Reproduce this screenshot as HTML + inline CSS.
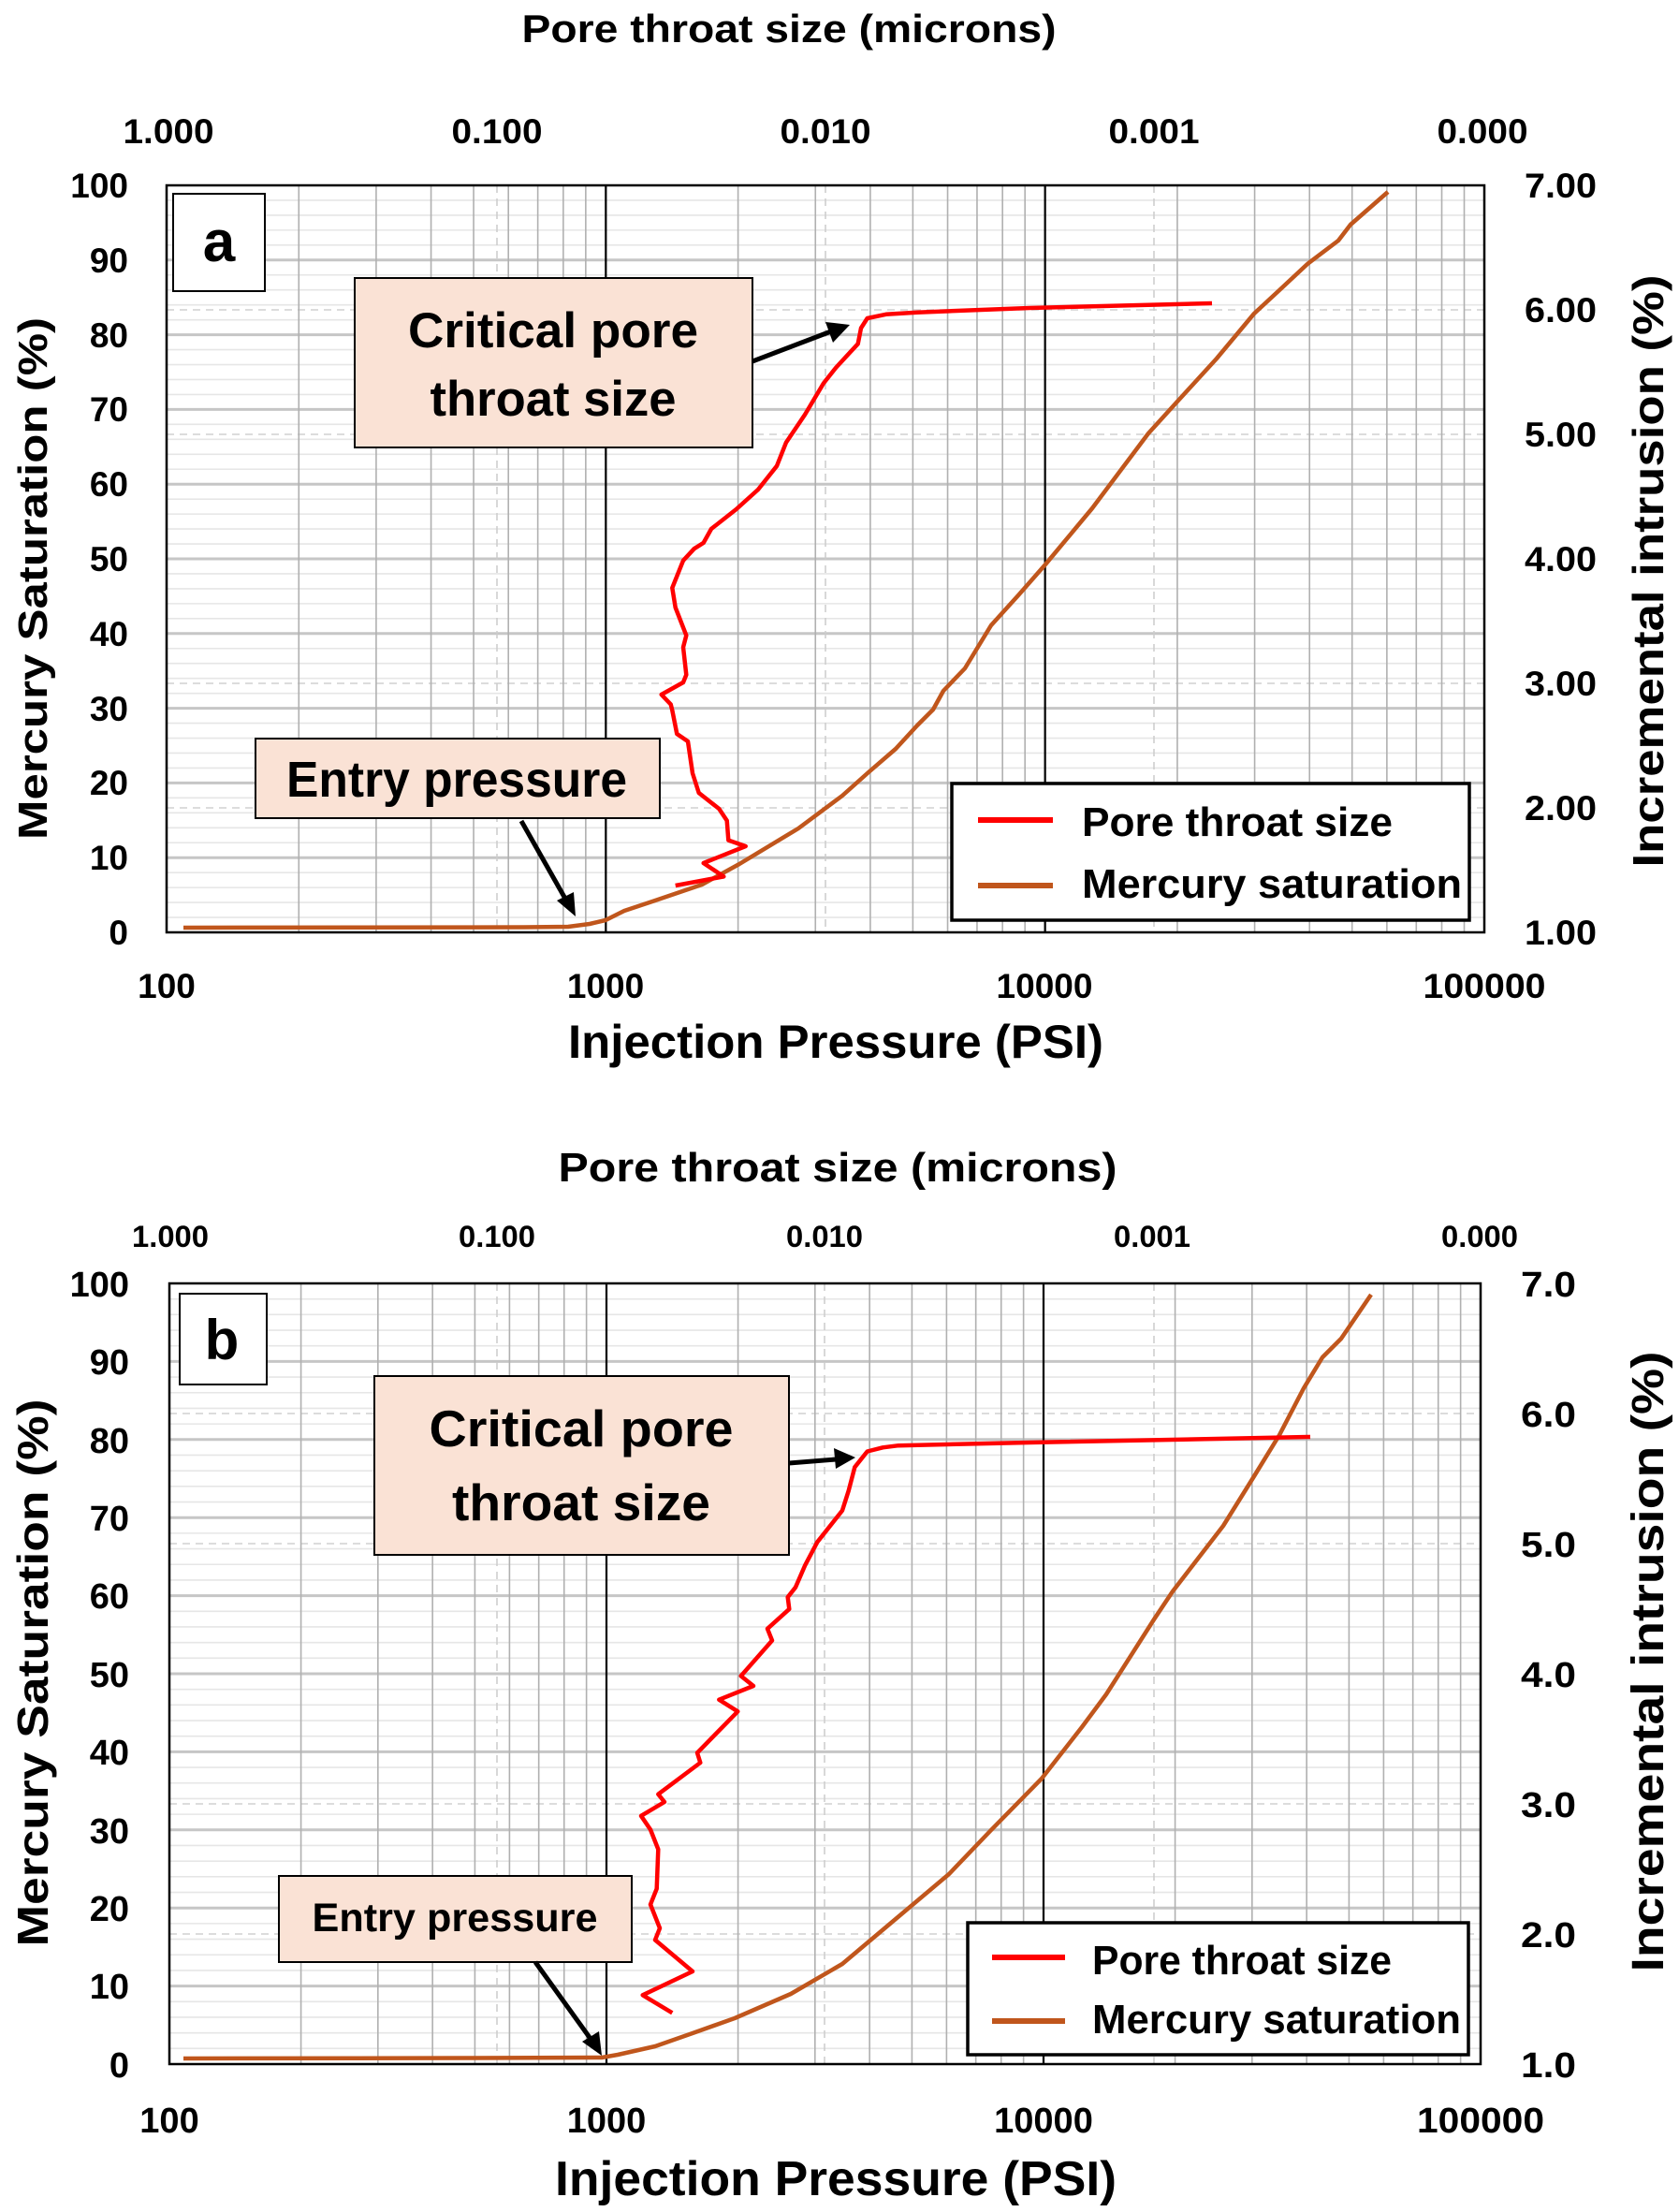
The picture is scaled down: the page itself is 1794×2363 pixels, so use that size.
<!DOCTYPE html>
<html><head><meta charset="utf-8">
<style>
html,body{margin:0;padding:0;background:#fff;}
svg{display:block;}
text{font-family:"Liberation Sans",sans-serif;font-weight:bold;fill:#000;}
</style></head>
<body>
<svg id="s" xmlns="http://www.w3.org/2000/svg" width="1794" height="2363" viewBox="0 0 1794 2363">
<rect width="1794" height="2363" fill="#fff"/>
<g id="gridA"></g>
<g id="gridB"></g>

<!-- ============ PANEL A ============ -->
<rect x="178" y="198" width="1408" height="798" fill="none" stroke="#000" stroke-width="2.5"/>
<text x="843" y="45" font-size="42" text-anchor="middle" textLength="571" lengthAdjust="spacingAndGlyphs">Pore throat size (microns)</text>
<g font-size="37" text-anchor="middle">
<text x="180" y="153" textLength="97" lengthAdjust="spacingAndGlyphs">1.000</text>
<text x="531" y="153" textLength="97" lengthAdjust="spacingAndGlyphs">0.100</text>
<text x="882" y="153" textLength="97" lengthAdjust="spacingAndGlyphs">0.010</text>
<text x="1233" y="153" textLength="97" lengthAdjust="spacingAndGlyphs">0.001</text>
<text x="1584" y="153" textLength="97" lengthAdjust="spacingAndGlyphs">0.000</text>
</g>
<g font-size="37" text-anchor="end">
<text x="137" y="211">100</text><text x="137" y="291">90</text><text x="137" y="371">80</text>
<text x="137" y="450">70</text><text x="137" y="530">60</text><text x="137" y="610">50</text>
<text x="137" y="690">40</text><text x="137" y="770">30</text><text x="137" y="849">20</text>
<text x="137" y="929">10</text><text x="137" y="1009">0</text>
</g>
<g font-size="37">
<text x="1629" y="211" textLength="77" lengthAdjust="spacingAndGlyphs">7.00</text>
<text x="1629" y="344" textLength="77" lengthAdjust="spacingAndGlyphs">6.00</text>
<text x="1629" y="477" textLength="77" lengthAdjust="spacingAndGlyphs">5.00</text>
<text x="1629" y="610" textLength="77" lengthAdjust="spacingAndGlyphs">4.00</text>
<text x="1629" y="743" textLength="77" lengthAdjust="spacingAndGlyphs">3.00</text>
<text x="1629" y="876" textLength="77" lengthAdjust="spacingAndGlyphs">2.00</text>
<text x="1629" y="1009" textLength="77" lengthAdjust="spacingAndGlyphs">1.00</text>
</g>
<g font-size="37" text-anchor="middle">
<text x="178" y="1066">100</text>
<text x="647" y="1066">1000</text>
<text x="1116" y="1066">10000</text>
<text x="1586" y="1066" textLength="131" lengthAdjust="spacingAndGlyphs">100000</text>
</g>
<text x="893" y="1130" font-size="50" text-anchor="middle" textLength="572" lengthAdjust="spacingAndGlyphs">Injection Pressure (PSI)</text>
<text transform="translate(50,618) rotate(-90)" font-size="44" text-anchor="middle" textLength="558" lengthAdjust="spacingAndGlyphs">Mercury Saturation (%)</text>
<text transform="translate(1777,610) rotate(-90)" font-size="46" text-anchor="middle" textLength="633" lengthAdjust="spacingAndGlyphs">Incremental intrusion  (%)</text>

<!-- curves A -->
<polyline fill="none" stroke="#c0561c" stroke-width="4.5" stroke-linejoin="round" points="196,991 560,990.5 607,990 630,987 647,983 667,973 700,962 750,945 790,923 853,885 900,850 928,825 957,800 980,775 997,758 1008,738 1031,714 1059,668 1088,636 1117,603 1167,543 1227,463 1257,430 1300,383 1340,335 1367,310 1397,282 1430,257 1443,240 1483,205"/>
<polyline fill="none" stroke="#ff0000" stroke-width="4.5" stroke-linejoin="round" points="721.7,946 773.3,936.4 751.7,922 796.7,904 778.3,897.6 776.7,876.6 768.3,864 746.7,847 740,826 735,792 723.3,784 718.3,758.8 716.7,752.4 706.7,742 730,729 733.3,720.9 730,691.4 733.3,678.8 721.7,649 718.3,628 730,598.8 741.7,586.2 751.7,579.9 760,565 786.7,544 810,523 830,497.8 835,485.2 840,472.6 860,443 880,409.4 893.3,392.6 916.7,367.3 920,350.5 926.7,340 946.7,335.8 980,333.7 1100,329 1295,324"/>

<rect x="185" y="207" width="98" height="104" fill="#fff" stroke="#000" stroke-width="2"/>
<text x="234" y="279" font-size="62" text-anchor="middle">a</text>

<rect x="379" y="297" width="425" height="181" fill="#fae2d5" stroke="#000" stroke-width="2"/>
<text x="591" y="371" font-size="53" text-anchor="middle" textLength="310" lengthAdjust="spacingAndGlyphs">Critical pore</text>
<text x="591" y="444" font-size="53" text-anchor="middle" textLength="263" lengthAdjust="spacingAndGlyphs">throat size</text>
<line x1="804" y1="386" x2="888" y2="354" stroke="#000" stroke-width="5"/>
<polygon points="908,347 882,344 890,366" fill="#000"/>

<rect x="273" y="789" width="432" height="85" fill="#fae2d5" stroke="#000" stroke-width="2"/>
<text x="488" y="851" font-size="54" text-anchor="middle" textLength="364" lengthAdjust="spacingAndGlyphs">Entry pressure</text>
<line x1="557" y1="877" x2="604" y2="960" stroke="#000" stroke-width="5"/>
<polygon points="615,979 595,962 613,953" fill="#000"/>

<rect x="1017" y="837" width="553" height="146" fill="#fff" stroke="#000" stroke-width="3.5"/>
<line x1="1045" y1="876" x2="1125" y2="876" stroke="#ff0000" stroke-width="6"/>
<line x1="1045" y1="946" x2="1125" y2="946" stroke="#c0561c" stroke-width="6"/>
<text x="1156" y="893" font-size="44" textLength="332" lengthAdjust="spacingAndGlyphs">Pore throat size</text>
<text x="1156" y="959" font-size="44" textLength="406" lengthAdjust="spacingAndGlyphs">Mercury saturation</text>

<!-- ============ PANEL B ============ -->
<rect x="181" y="1371" width="1401" height="834" fill="none" stroke="#000" stroke-width="2.5"/>
<text x="895" y="1262" font-size="44" text-anchor="middle" textLength="597" lengthAdjust="spacingAndGlyphs">Pore throat size (microns)</text>
<g font-size="32" text-anchor="middle">
<text x="182" y="1332" textLength="82" lengthAdjust="spacingAndGlyphs">1.000</text>
<text x="531" y="1332" textLength="82" lengthAdjust="spacingAndGlyphs">0.100</text>
<text x="881" y="1332" textLength="82" lengthAdjust="spacingAndGlyphs">0.010</text>
<text x="1231" y="1332" textLength="82" lengthAdjust="spacingAndGlyphs">0.001</text>
<text x="1581" y="1332" textLength="82" lengthAdjust="spacingAndGlyphs">0.000</text>
</g>
<g font-size="38" text-anchor="end">
<text x="138" y="1385">100</text><text x="138" y="1468">90</text><text x="138" y="1552">80</text>
<text x="138" y="1635">70</text><text x="138" y="1718">60</text><text x="138" y="1802">50</text>
<text x="138" y="1885">40</text><text x="138" y="1969">30</text><text x="138" y="2052">20</text>
<text x="138" y="2135">10</text><text x="138" y="2219">0</text>
</g>
<g font-size="38">
<text x="1625" y="1385" textLength="59" lengthAdjust="spacingAndGlyphs">7.0</text>
<text x="1625" y="1524" textLength="59" lengthAdjust="spacingAndGlyphs">6.0</text>
<text x="1625" y="1663" textLength="59" lengthAdjust="spacingAndGlyphs">5.0</text>
<text x="1625" y="1802" textLength="59" lengthAdjust="spacingAndGlyphs">4.0</text>
<text x="1625" y="1941" textLength="59" lengthAdjust="spacingAndGlyphs">3.0</text>
<text x="1625" y="2080" textLength="59" lengthAdjust="spacingAndGlyphs">2.0</text>
<text x="1625" y="2219" textLength="59" lengthAdjust="spacingAndGlyphs">1.0</text>
</g>
<g font-size="38" text-anchor="middle">
<text x="181" y="2278">100</text>
<text x="648" y="2278">1000</text>
<text x="1115" y="2278">10000</text>
<text x="1582" y="2278" textLength="136" lengthAdjust="spacingAndGlyphs">100000</text>
</g>
<text x="893" y="2345" font-size="52" text-anchor="middle" textLength="600" lengthAdjust="spacingAndGlyphs">Injection Pressure (PSI)</text>
<text transform="translate(51,1787) rotate(-90)" font-size="46" text-anchor="middle" textLength="585" lengthAdjust="spacingAndGlyphs">Mercury Saturation (%)</text>
<text transform="translate(1777,1775) rotate(-90)" font-size="48" text-anchor="middle" textLength="663" lengthAdjust="spacingAndGlyphs">Incremental intrusion  (%)</text>

<polyline fill="none" stroke="#c0561c" stroke-width="4.5" stroke-linejoin="round" points="196,2199 500,2198.5 643,2198 660,2195 700,2186 740,2172 785,2156 845,2130 900,2098 957,2050 1014,2002 1059,1955 1113,1900 1156,1845 1182,1810 1233,1730 1253,1700 1307,1630 1340,1577 1367,1533 1393,1483 1413,1450 1433,1430 1465,1383"/>
<polyline fill="none" stroke="#ff0000" stroke-width="4.5" stroke-linejoin="round" points="718.3,2150.3 686.7,2131.3 740,2106 700,2072.4 705,2059.8 695,2034.5 701.7,2017.7 703.3,1975.6 695,1954.5 685,1939.8 710,1925 703.3,1916.7 748.3,1883 745,1872.5 788.3,1828.3 768.3,1815.7 805,1801 791.7,1790.4 825,1752.5 820,1739.9 843.3,1718.9 841.7,1706.2 850,1695.7 860,1672.6 873.3,1647.3 900,1613.6 906.7,1592.6 913.3,1567.3 926.7,1550.5 943.3,1546.3 960,1544.2 1100,1541 1400,1535"/>

<rect x="192" y="1382" width="93" height="97" fill="#fff" stroke="#000" stroke-width="2"/>
<text x="237" y="1452" font-size="60" text-anchor="middle">b</text>

<rect x="400" y="1470" width="443" height="191" fill="#fae2d5" stroke="#000" stroke-width="2"/>
<text x="621" y="1545" font-size="55" text-anchor="middle" textLength="325" lengthAdjust="spacingAndGlyphs">Critical pore</text>
<text x="621" y="1624" font-size="55" text-anchor="middle" textLength="276" lengthAdjust="spacingAndGlyphs">throat size</text>
<line x1="843" y1="1563" x2="893" y2="1559" stroke="#000" stroke-width="5"/>
<polygon points="914,1557 891,1547 893,1569" fill="#000"/>

<rect x="298" y="2004" width="377" height="92" fill="#fae2d5" stroke="#000" stroke-width="2"/>
<text x="486" y="2063" font-size="43" text-anchor="middle" textLength="305" lengthAdjust="spacingAndGlyphs">Entry pressure</text>
<line x1="572" y1="2096" x2="631" y2="2178" stroke="#000" stroke-width="5"/>
<polygon points="643,2196 622,2181 640,2170" fill="#000"/>

<rect x="1034" y="2054" width="535" height="141" fill="#fff" stroke="#000" stroke-width="3.5"/>
<line x1="1060" y1="2091" x2="1138" y2="2091" stroke="#ff0000" stroke-width="6"/>
<line x1="1060" y1="2159" x2="1138" y2="2159" stroke="#c0561c" stroke-width="6"/>
<text x="1167" y="2109" font-size="44" textLength="320" lengthAdjust="spacingAndGlyphs">Pore throat size</text>
<text x="1167" y="2172" font-size="44" textLength="394" lengthAdjust="spacingAndGlyphs">Mercury saturation</text>
</svg>
<script>
(function(){
var NS="http://www.w3.org/2000/svg";
function ln(g,x1,y1,x2,y2,c,w,d){var l=document.createElementNS(NS,"line");l.setAttribute("x1",x1);l.setAttribute("y1",y1);l.setAttribute("x2",x2);l.setAttribute("y2",y2);l.setAttribute("stroke",c);l.setAttribute("stroke-width",w);if(d)l.setAttribute("stroke-dasharray",d);g.appendChild(l);}
function grid(id,x0,dec,yT,yB,dashX,rightN){
 var g=document.getElementById(id),x1=x0+3*dec,h=yB-yT,i,k,d;
 for(i=2;i<100;i+=2){if(i%10)ln(g,x0,yB-h*i/100,x1,yB-h*i/100,"#e6e6e6",1.6);}
 for(i=1;i<rightN;i++){ln(g,x0,yT+h*i/rightN,x1,yT+h*i/rightN,"#d0d0d0",1.5,"8,6");}
 for(i=10;i<100;i+=10){ln(g,x0,yB-h*i/100,x1,yB-h*i/100,"#c6c6c6",3);}
 for(d=0;d<3;d++){for(k=2;k<10;k++){var x=x0+dec*(d+Math.log10(k));ln(g,x,yT,x,yB,"#b0b0b0",1.6);}}
 for(i=0;i<dashX.length;i++)ln(g,dashX[i],yT,dashX[i],yB,"#cccccc",1.5,"8,6");
 ln(g,x0+dec,yT,x0+dec,yB,"#000",2.2);ln(g,x0+2*dec,yT,x0+2*dec,yB,"#000",2.2);
}
grid("gridA",178,469.33,198,996,[531,882,1233],6);
grid("gridB",181,467,1371,2205,[531,881,1233],6);
})();
</script>
</body></html>
